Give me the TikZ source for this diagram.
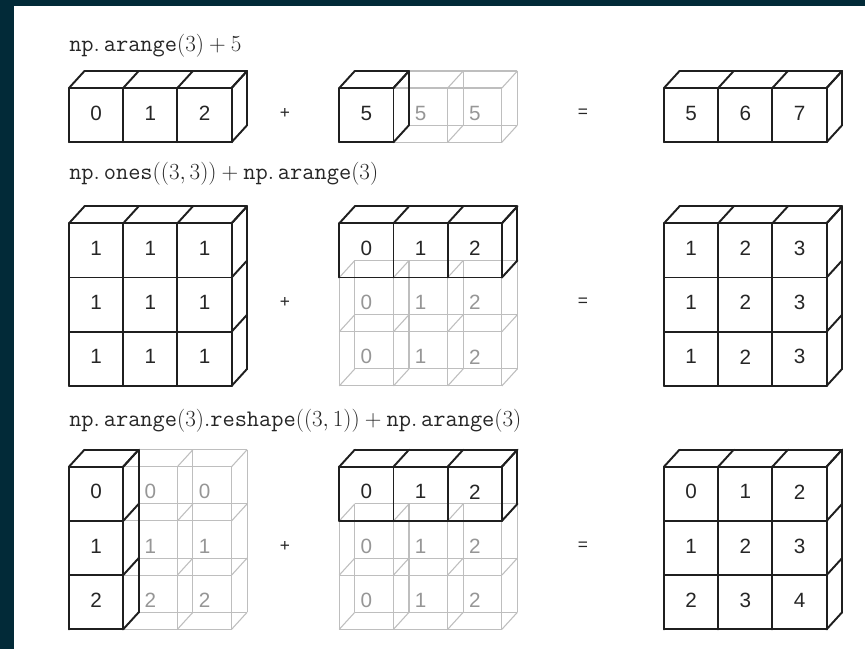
\documentclass[tikz,border=0pt]{standalone}
\usepackage{fontspec}
\newfontfamily\digitfont{Liberation Sans}
\definecolor{bgdark}{RGB}{2,42,56}
\definecolor{ghostcol}{RGB}{190,190,190}
\definecolor{ghosttext}{RGB}{150,150,150}
\def\cellsz{54.2}
\def\depx{15.5}
\def\depy{17}
\tikzset{
  solidline/.style={draw=black!88, line width=1.45pt, line join=round, line cap=round},
  ghostline/.style={draw=ghostcol, line width=0.8pt},
  digit/.style={font=\digitfont\fontsize{15.5}{17}\selectfont, text=black!85, inner sep=0pt},
  ghostdigit/.style={digit, text=ghosttext},
  opsign/.style={font=\digitfont\fontsize{13}{15}\selectfont, text=black!85, inner sep=0pt},
  exprlabel/.style={anchor=base west, inner sep=0pt, font=\fontsize{17.8}{21}\selectfont, text=black!85}
}
% x0 y0 cols rows
\newcommand\DarkBlock[4]{%
  \foreach \i in {0,...,#3}{%
    \draw[solidline] ({#1+\i*\cellsz},{#2}) -- ({#1+\i*\cellsz},{#2+#4*\cellsz});
    \draw[solidline] ({#1+\i*\cellsz},{#2}) -- ++(\depx,-\depy);
  }
  \foreach \j in {0,...,#4}{%
    \draw[solidline] ({#1},{#2+\j*\cellsz}) -- ({#1+#3*\cellsz},{#2+\j*\cellsz});
    \draw[solidline] ({#1+#3*\cellsz},{#2+\j*\cellsz}) -- ++(\depx,-\depy);
  }
  \draw[solidline] ({#1+\depx},{#2-\depy}) -- ({#1+#3*\cellsz+\depx},{#2-\depy})
     -- ({#1+#3*\cellsz+\depx},{#2+#4*\cellsz-\depy});
}
\newcommand\GhostBlock[4]{%
  \foreach \i in {0,...,#3}{%
    \draw[ghostline] ({#1+\i*\cellsz},{#2}) -- ({#1+\i*\cellsz},{#2+#4*\cellsz});
    \draw[ghostline] ({#1+\i*\cellsz+\depx},{#2-\depy}) -- ({#1+\i*\cellsz+\depx},{#2+#4*\cellsz-\depy});
    \foreach \j in {0,...,#4}{%
      \draw[ghostline] ({#1+\i*\cellsz},{#2+\j*\cellsz}) -- ++(\depx,-\depy);
    }
  }
  \foreach \j in {0,...,#4}{%
    \draw[ghostline] ({#1},{#2+\j*\cellsz}) -- ({#1+#3*\cellsz},{#2+\j*\cellsz});
    \draw[ghostline] ({#1+\depx},{#2+\j*\cellsz-\depy}) -- ({#1+#3*\cellsz+\depx},{#2+\j*\cellsz-\depy});
  }
}
\begin{document}
\begin{tikzpicture}[x=0.75pt,y=-0.75pt]
\useasboundingbox (0,0) rectangle (865,649);
\fill[bgdark] (0,0) rectangle (865,649);
\fill[white] (14,6) rectangle (865,649);

% ---------- row 1 ----------
\node[exprlabel] (lab1) at (69,52) {$\mathtt{np.}\,\mathtt{arange}(3)+5$};
\DarkBlock{69}{88}{3}{1}
\foreach \v [count=\k from 0] in {0,1,2}
  \node[digit] (aa\k) at ({69+(\k+0.5)*\cellsz},{88+0.5*\cellsz-2}) {\v};
\node[opsign] (plus1) at (285,113) {+};
\GhostBlock{393.5}{88}{2}{1}
\DarkBlock{339.3}{88}{1}{1}
\node[digit] (ab0) at ({339.3+0.5*\cellsz},{88+0.5*\cellsz-2}) {5};
\foreach \k in {1,2}
  \node[ghostdigit] (ab\k) at ({339.3+(\k+0.5)*\cellsz},{88+0.5*\cellsz-2}) {5};
\node[opsign] (eq1) at (583,113) {=};
\DarkBlock{664}{88}{3}{1}
\foreach \v [count=\k from 0] in {5,6,7}
  \node[digit] (ac\k) at ({664+(\k+0.5)*\cellsz},{88+0.5*\cellsz-2}) {\v};

% ---------- row 2 ----------
\node[exprlabel] (lab2) at (69,180) {$\mathtt{np.}\,\mathtt{ones}((3,3))+\mathtt{np.}\,\mathtt{arange}(3)$};
\DarkBlock{69}{223.3}{3}{3}
\foreach \r in {0,1,2}
  \foreach \c in {0,1,2}
    \node[digit] (ba\r\c) at ({69+(\c+0.5)*\cellsz},{223.3+(\r+0.5)*\cellsz-2}) {1};
\node[opsign] (plus2) at (285,302) {+};
\GhostBlock{339.3}{277.5}{3}{2}
\DarkBlock{339.3}{223.3}{3}{1}
\foreach \c in {0,1,2}
  \node[digit] (bb0\c) at ({339.3+(\c+0.5)*\cellsz},{223.3+0.5*\cellsz-2}) {\c};
\foreach \r in {1,2}
  \foreach \c in {0,1,2}
    \node[ghostdigit] (bb\r\c) at ({339.3+(\c+0.5)*\cellsz},{223.3+(\r+0.5)*\cellsz-2}) {\c};
\node[opsign] (eq2) at (583,302) {=};
\DarkBlock{664}{223.3}{3}{3}
\foreach \r in {0,1,2}
  \foreach \v [count=\c from 0] in {1,2,3}
    \node[digit] (bc\r\c) at ({664+(\c+0.5)*\cellsz},{223.3+(\r+0.5)*\cellsz-2}) {\v};

% ---------- row 3 ----------
\node[exprlabel] (lab3) at (69,426.5) {$\mathtt{np.}\,\mathtt{arange}(3)\mathtt{.reshape}((3,1))+\mathtt{np.}\,\mathtt{arange}(3)$};
\GhostBlock{123.2}{466.7}{2}{3}
\DarkBlock{69}{466.7}{1}{3}
\foreach \r in {0,1,2}{
  \node[digit] (ca\r0) at ({69+0.5*\cellsz},{466.7+(\r+0.5)*\cellsz-2}) {\r};
  \foreach \c in {1,2}
    \node[ghostdigit] (ca\r\c) at ({69+(\c+0.5)*\cellsz},{466.7+(\r+0.5)*\cellsz-2}) {\r};
}
\node[opsign] (plus3) at (285,546) {+};
\GhostBlock{339.3}{520.9}{3}{2}
\DarkBlock{339.3}{466.7}{3}{1}
\foreach \c in {0,1,2}
  \node[digit] (cb0\c) at ({339.3+(\c+0.5)*\cellsz},{466.7+0.5*\cellsz-2}) {\c};
\foreach \r in {1,2}
  \foreach \c in {0,1,2}
    \node[ghostdigit] (cb\r\c) at ({339.3+(\c+0.5)*\cellsz},{466.7+(\r+0.5)*\cellsz-2}) {\c};
\node[opsign] (eq3) at (583,546) {=};
\DarkBlock{664}{466.7}{3}{3}
\foreach \r in {0,1,2}
  \foreach \c in {0,1,2}{
    \pgfmathtruncatemacro\s{\r+\c}
    \node[digit] (cc\r\c) at ({664+(\c+0.5)*\cellsz},{466.7+(\r+0.5)*\cellsz-2}) {\s};
  }
\end{tikzpicture}
\end{document}
